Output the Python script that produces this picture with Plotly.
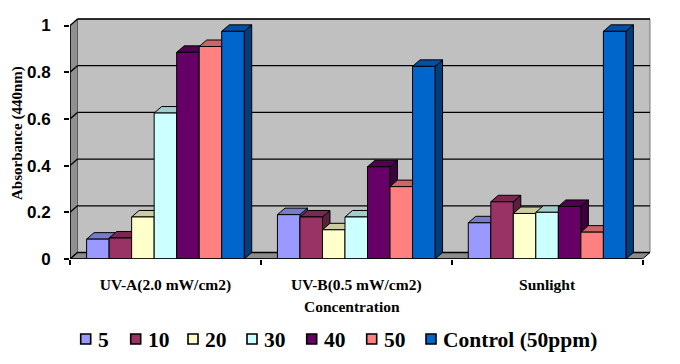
import plotly.graph_objects as go

categories = ["UV-A(2.0 mW/cm2)", "UV-B(0.5 mW/cm2)", "Sunlight"]
series_names = ["5", "10", "20", "30", "40", "50", "Control (50ppm)"]
s5 = [0.085, 0.19, 0.155]
s10 = [0.09, 0.18, 0.245]
s20 = [0.18, 0.125, 0.195]
s30 = [0.625, 0.18, 0.2]
s40 = [0.885, 0.395, 0.225]
s50 = [0.91, 0.31, 0.115]
control = [0.975, 0.825, 0.975]
series_values = [s5, s10, s20, s30, s40, s50, control]
colors = ["#9999FF", "#993366", "#FFFFCC", "#CCFFFF", "#660066", "#FF8080", "#0066CC"]
y_ticks = [0, 0.2, 0.4, 0.6, 0.8, 1]
y_tick_text = ["0", "0.2", "0.4", "0.6", "0.8", "1"]

SERIF = "Liberation Serif, Times New Roman, serif"
SANS = "Liberation Sans, Arial, sans-serif"

# layout geometry (pixels)
W, H = 680, 364
ML, MR, MT, MB = 70, 28, 17, 105
PW, PH = W - ML - MR, H - MT - MB
DXPX, DYPX = 7.5, 6.5
PXX = (PW - DXPX - 2) / 3.0
PXY = (PH - DYPX - 2) / 1.0
DX = DXPX / PXX
DY = DYPX / PXY
XMAX = 2.5 + DX + 2 / PXX
YMAX = 1 + DY + 2 / PXY

GROUP = 0.826
BW = GROUP / len(series_names)
X0 = -GROUP / 2


def shade(hexc, f):
    h = hexc.lstrip("#")
    r, g, b = (int(h[i:i + 2], 16) for i in (0, 2, 4))
    return "#%02X%02X%02X" % (int(r * f), int(g * f), int(b * f))


def px(xp):
    return (xp - ML) / PW


def py(yp):
    return (H - MB - yp) / PH


fig = go.Figure()
xs = list(range(len(categories)))
for k, (name, vals, col) in enumerate(zip(series_names, series_values, colors)):
    fig.add_trace(go.Bar(
        x=xs, y=vals, name=name, width=BW, offset=X0 + k * BW, showlegend=False,
        marker=dict(color=col, line=dict(color="black", width=1)),
    ))

shapes = []
# walls and floor
shapes.append(dict(type="path", layer="between", xref="x", yref="y",
                   path=f"M{-0.5+DX},{DY} L{2.5+DX},{DY} L{2.5+DX},{1+DY} L{-0.5+DX},{1+DY} Z",
                   fillcolor="#C0C0C0", line=dict(color="#606060", width=0.8)))
shapes.append(dict(type="path", layer="between", xref="x", yref="y",
                   path=f"M-0.5,0 L{-0.5+DX},{DY} L{-0.5+DX},{1+DY} L-0.5,1 Z",
                   fillcolor="#909090", line=dict(color="#505050", width=0.8)))
shapes.append(dict(type="path", layer="between", xref="x", yref="y",
                   path=f"M-0.5,0 L2.5,0 L{2.5+DX},{DY} L{-0.5+DX},{DY} Z",
                   fillcolor="#8C8C8C", line=dict(color="black", width=1)))
# gridlines on back & left walls
for v in y_ticks:
    shapes.append(dict(type="line", layer="between", xref="x", yref="y",
                       x0=-0.5 + DX, x1=2.5 + DX, y0=v + DY, y1=v + DY,
                       line=dict(color="black", width=1.3)))
    shapes.append(dict(type="line", layer="between", xref="x", yref="y",
                       x0=-0.5, x1=-0.5 + DX, y0=v, y1=v + DY,
                       line=dict(color="black", width=1.3)))
# bar extrusions
for i in xs:
    for k, (vals, col) in enumerate(zip(series_values, colors)):
        v = vals[i]
        x0 = i + X0 + k * BW
        x1 = x0 + BW
        shapes.append(dict(type="path", layer="between", xref="x", yref="y",
                           path=f"M{x1},0 L{x1+DX},{DY} L{x1+DX},{v+DY} L{x1},{v} Z",
                           fillcolor=shade(col, 0.6), line=dict(color="black", width=1)))
        shapes.append(dict(type="path", layer="between", xref="x", yref="y",
                           path=f"M{x0},{v} L{x1},{v} L{x1+DX},{v+DY} L{x0+DX},{v+DY} Z",
                           fillcolor=shade(col, 0.8), line=dict(color="black", width=1)))
# front axes lines
shapes.append(dict(type="line", layer="above", xref="x", yref="y",
                   x0=-0.5, x1=-0.5, y0=0, y1=1, line=dict(color="black", width=1.5)))
shapes.append(dict(type="line", layer="above", xref="x", yref="y",
                   x0=-0.5, x1=2.5, y0=0, y1=0, line=dict(color="black", width=1.5)))

annotations = [
    dict(text="Concentration", xref="paper", yref="paper",
         x=px(352), y=py(306), showarrow=False, xanchor="center", yanchor="middle",
         font=dict(family=SERIF, size=15.5, color="black", weight="bold")),
    dict(text="Absorbance (440nm)", xref="paper", yref="paper",
         x=px(17), y=py(133), showarrow=False, textangle=-90,
         xanchor="center", yanchor="middle",
         font=dict(family=SERIF, size=15, color="black", weight="bold")),
]

# custom legend (boxes + text)
legend_box_left = [80.7, 130.7, 188, 247, 306.7, 366.7, 426]
LEG_Y = 339
for name, col, bx in zip(series_names, colors, legend_box_left):
    shapes.append(dict(type="rect", xref="paper", yref="paper", layer="above",
                       x0=px(bx), x1=px(bx + 10), y0=py(LEG_Y + 5), y1=py(LEG_Y - 5),
                       fillcolor=col, line=dict(color="black", width=1.6)))
    annotations.append(dict(text=name, xref="paper", yref="paper",
                            x=px(bx + 15), y=py(LEG_Y + 1), showarrow=False,
                            xanchor="left", yanchor="middle",
                            font=dict(family=SERIF, size=21.5, color="black", weight="bold")))

fig.update_layout(
    width=W, height=H,
    margin=dict(l=ML, r=MR, t=MT, b=MB, autoexpand=False),
    paper_bgcolor="white", plot_bgcolor="white",
    barmode="overlay",
    shapes=shapes,
    annotations=annotations,
    showlegend=False,
    xaxis=dict(range=[-0.5, XMAX], tickvals=xs, ticktext=categories, ticks="",
               showgrid=False, zeroline=False, showline=False, ticklabelstandoff=14,
               tickfont=dict(family=SERIF, size=15.5, color="black", weight="bold"),
               minor=dict(tickvals=[-0.5, 0.5, 1.5, 2.5], ticks="outside", ticklen=5,
                          tickcolor="black", tickwidth=1.5, showgrid=False)),
    yaxis=dict(range=[0, YMAX], tickvals=y_ticks, ticktext=y_tick_text,
               ticks="outside", ticklen=5, tickcolor="black", tickwidth=1.5,
               showgrid=False, zeroline=False, showline=False, ticklabelstandoff=10,
               tickfont=dict(family=SANS, size=17, color="black", weight="bold")),
)

fig.write_html("out.html", config={"displayModeBar": False},
               post_script="document.body.style.margin='0';")
